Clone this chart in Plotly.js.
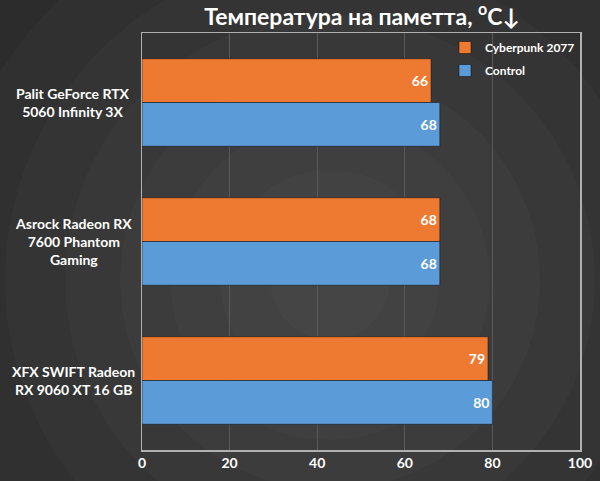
<!DOCTYPE html>
<html>
<head>
<meta charset="utf-8">
<script src="https://cdn.plot.ly/plotly-3.0.1.min.js"></script>
<style>
  html, body { margin: 0; padding: 0; background: #2b2b2b; }
  #chart { width: 600px; height: 481px; }
</style>
</head>
<body>
<div id="chart"></div>
<script>
// видеокарты (сверху вниз)
const cards = [
  'Palit GeForce RTX<br>5060 Infinity 3X',
  'Asrock Radeon RX<br>7600 Phantom<br>Gaming',
  'XFX SWIFT Radeon<br>RX 9060 XT 16 GB',
];
// температура памяти, °C
const cyberpunk = [66, 68, 79];
const control = [68, 68, 80];
const seriesNames = ['Cyberpunk 2077', 'Control'];
const xTicks = [0, 20, 40, 60, 80, 100];

const FONT = 'Lato, "Open Sans", sans-serif';

// размеры области графика в пикселях (для фона)
const M = { l: 142, r: 20, t: 33, b: 31 };
const plotW = 600 - M.l - M.r;
const plotH = 481 - M.t - M.b;

// фон: концентрические круги, имитация радиального градиента
function backgroundRings() {
  const cx = 330, cy = 280;
  const rings = [
    [540, '#282828'],
    [460, '#2c2c2c'],
    [390, '#303030'],
    [325, '#343434'],
    [265, '#383838'],
    [210, '#3c3c3c'],
    [160, '#3f3f3f'],
    [110, '#424242'],
    [60, '#454545'],
  ];
  return rings.map(([r, color]) => ({
    type: 'circle',
    layer: 'below',
    xref: 'paper',
    yref: 'paper',
    x0: (cx - r - M.l) / plotW,
    x1: (cx + r - M.l) / plotW,
    y0: (481 - M.b - (cy + r)) / plotH,
    y1: (481 - M.b - (cy - r)) / plotH,
    fillcolor: color,
    line: { width: 0 },
  }));
}

function makeTrace(values, name, color) {
  return {
    type: 'bar',
    orientation: 'h',
    y: cards,
    x: values,
    name: name,
    legendgroup: name,
    marker: { color: color, line: { color: 'rgba(20,20,20,0.55)', width: 1 } },
    text: values.map(String),
    textposition: 'inside',
    insidetextanchor: 'end',
    textfont: { family: FONT, size: 14, color: '#ffffff', weight: 'bold' },
    hoverinfo: 'none',
  };
}

const data = [
  makeTrace(cyberpunk, seriesNames[0], '#EE7A32'),
  makeTrace(control, seriesNames[1], '#5B9BD8'),
];

// подписи категорий — по центру, как в оригинале
const labels = cards.map((c) => ({
  xref: 'paper',
  yref: 'y',
  x: (73 - M.l) / plotW,
  y: c,
  xanchor: 'center',
  yanchor: 'middle',
  align: 'center',
  text: c,
  showarrow: false,
  font: { family: FONT, size: 14, color: '#ffffff', weight: 'bold' },
}));

const layout = {
  width: 600,
  height: 481,
  paper_bgcolor: '#2b2b2b',
  plot_bgcolor: 'rgba(0,0,0,0)',
  margin: { l: M.l, r: M.r, t: M.t, b: M.b, pad: 0 },
  title: {
    text: 'Температура на паметта, <sup>o</sup>C↓',
    font: { family: FONT, size: 23, color: '#ffffff', weight: 'bold' },
    x: 362 / 600,
    xanchor: 'center',
    y: 1 - 17 / 481,
    yanchor: 'middle',
  },
  xaxis: {
    range: [0, 100],
    tickvals: xTicks,
    ticktext: xTicks.map(String),
    showgrid: true,
    gridcolor: '#595959',
    gridwidth: 1,
    zeroline: false,
    showline: true,
    linecolor: '#b0b0b0',
    linewidth: 1.5,
    mirror: true,
    ticks: '',
    tickfont: { family: FONT, size: 14, color: '#ffffff', weight: 'bold' },
    fixedrange: true,
  },
  yaxis: {
    autorange: 'reversed',
    showticklabels: false,
    showgrid: false,
    zeroline: false,
    showline: true,
    linecolor: '#b0b0b0',
    linewidth: 1.5,
    mirror: true,
    ticks: '',
    fixedrange: true,
  },
  barmode: 'group',
  bargap: 0.37,
  bargroupgap: 0,
  showlegend: true,
  legend: {
    x: 1,
    xanchor: 'right',
    y: 1,
    yanchor: 'top',
    bgcolor: 'rgba(0,0,0,0)',
    traceorder: 'grouped',
    tracegroupgap: 4,
    font: { family: FONT, size: 12, color: '#ffffff', weight: 'bold' },
    itemwidth: 30,
  },
  shapes: backgroundRings(),
  annotations: labels,
};

Plotly.newPlot('chart', data, layout, { staticPlot: true, displayModeBar: false });
</script>
</body>
</html>
